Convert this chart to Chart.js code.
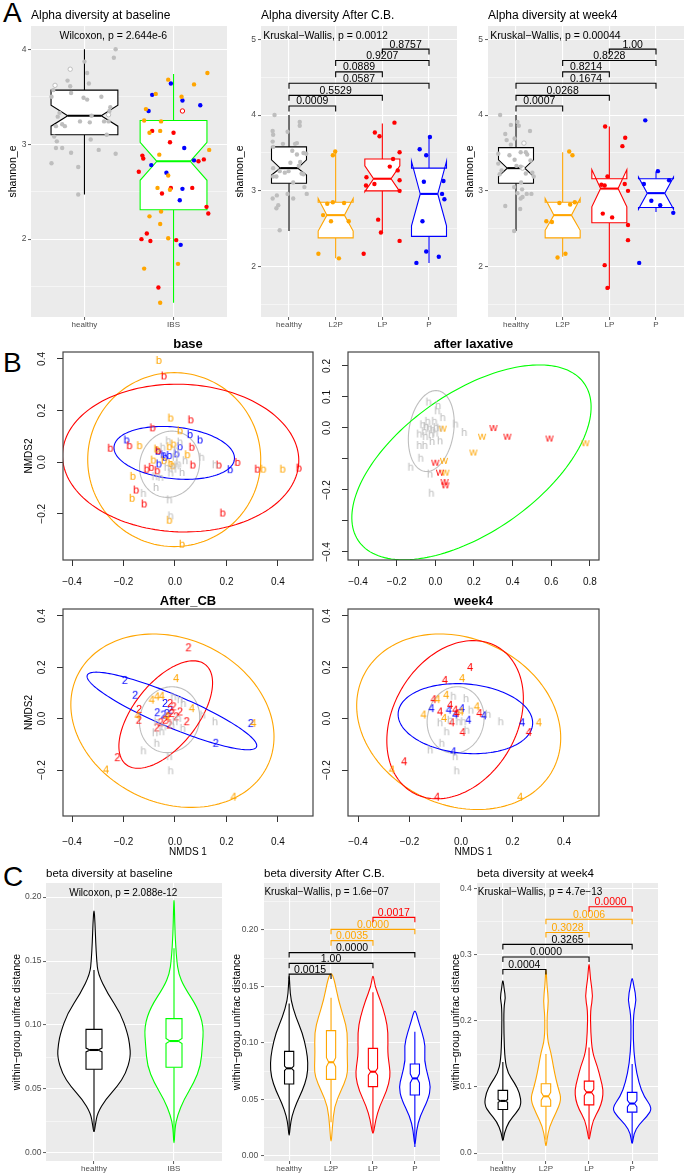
<!DOCTYPE html>
<html>
<head>
<meta charset="utf-8">
<script src="https://cdn.jsdelivr.net/npm/chart.js@4.4.0/dist/chart.umd.min.js"></script>
<style>
  body { margin: 0; background: #fff; width: 685px; height: 1174px; position: relative; overflow: hidden; font-family: "Liberation Sans", Arial, sans-serif; }
  canvas { position: absolute; }
  .lab { position: absolute; left: 3px; font-size: 28px; line-height: 28px; color: #000; }
</style>
</head>
<body>
<div class="lab" style="top:-1px">A</div>
<div class="lab" style="top:349px">B</div>
<div class="lab" style="top:863px">C</div>
<script>
// ---------- data ----------
// panel A : alpha diversity (shannon_e)
// box stats: [whiskerLow, q1, notchLow, median, notchHigh, q3, whiskerHigh]
const a1Groups = ['healthy', 'IBS'];
const a1Ticks = [2, 3, 4];
const a1Box = [[2.47, 3.10, 3.19, 3.30, 3.41, 3.57, 4.00], [1.33, 2.31, 2.62, 2.82, 3.02, 3.25, 3.74]];
// points: [jitter, value]
const a1Healthy = [[0.35,4.00],[0.33,3.91],[0.0,3.87],[0.03,3.75],[-0.19,3.67],[-0.16,3.61],[0.05,3.64],[-0.35,3.57],[-0.15,3.54],[-0.37,3.50],[-0.01,3.49],[0.03,3.47],[0.19,3.50],[0.29,3.39],[0.28,3.35],[-0.28,3.33],[-0.30,3.29],[0.08,3.30],[-0.05,3.24],[-0.32,3.19],[-0.22,3.19],[-0.25,3.21],[0.22,3.24],[0.27,3.24],[0.06,3.23],[0.25,3.10],[-0.34,3.08],[0.07,3.05],[-0.31,3.03],[-0.32,2.96],[-0.25,2.96],[0.16,2.94],[-0.15,2.91],[0.35,2.90],[-0.37,2.80],[-0.07,2.76],[-0.07,2.47]];
const a1HealthyOpen = [[-0.16,3.79],[-0.33,3.62],[0.27,3.31]];
const a1Orange = [[0.38,3.75],[-0.06,3.68],[0.23,3.63],[-0.2,3.53],[0.09,3.50],[-0.31,3.37],[-0.33,3.25],[-0.14,3.24],[-0.27,3.12],[-0.15,3.14],[0.40,2.94],[-0.16,2.89],[-0.06,2.67],[-0.18,2.54],[-0.04,2.52],[-0.14,2.29],[-0.27,2.24],[-0.15,2.16],[-0.06,2.01],[-0.33,1.69],[0.05,1.74],[-0.15,1.33]];
const a1Red = [[-0.24,3.14],[0.0,3.12],[-0.04,3.02],[-0.35,2.88],[-0.34,2.85],[0.28,2.82],[0.34,2.84],[-0.39,2.71],[-0.03,2.54],[0.21,2.54],[-0.13,2.48],[0.37,2.34],[0.39,2.27],[-0.30,2.06],[-0.36,2.00],[-0.26,1.98],[0.03,1.99],[-0.17,1.49]];
const a1Blue = [[-0.03,3.64],[-0.24,3.52],[0.10,3.46],[0.30,3.41],[-0.28,3.35],[0.12,2.96],[-0.25,2.78],[0.23,2.83],[-0.08,2.70],[0.10,2.53],[0.07,2.41],[0.08,1.94]];
const a1RedOpen = [[0.10,3.35]];

const a2Groups = ['healthy', 'L2P', 'LP', 'P'];
const a2Ticks = [2, 3, 4, 5];
const a2Box = [[2.47,3.10,3.21,3.30,3.41,3.58,4.00],[2.11,2.38,2.47,2.68,2.90,2.85,3.53],[2.46,3.00,2.99,3.16,3.33,3.42,3.89],[2.05,2.40,2.54,2.96,3.39,3.30,3.71]];
const a2Healthy = [[-0.31,4.00],[0.23,3.91],[0.23,3.86],[-0.35,3.79],[-0.34,3.74],[-0.03,3.78],[-0.35,3.65],[-0.34,3.58],[-0.13,3.62],[0.13,3.62],[0.17,3.63],[0.07,3.53],[0.17,3.48],[0.31,3.50],[0.37,3.49],[0.03,3.37],[0.24,3.38],[0.21,3.33],[-0.34,3.30],[-0.20,3.26],[-0.09,3.24],[-0.01,3.26],[-0.27,3.19],[0.27,3.23],[0.31,3.22],[0.09,3.11],[-0.34,3.19],[0.33,3.05],[-0.26,2.94],[-0.03,2.96],[0.38,2.96],[-0.35,2.90],[0.09,2.90],[-0.23,2.81],[-0.27,2.77],[-0.20,2.48]];
const a2L2P = [[-0.01,3.52],[-0.06,3.47],[-0.18,2.83],[-0.06,2.85],[0.18,2.84],[-0.27,2.68],[-0.10,2.60],[0.28,2.60],[-0.37,2.17],[0.07,2.11]];
const a2LP = [[0.26,3.90],[-0.16,3.77],[-0.06,3.72],[0.23,3.42],[0.37,3.51],[0.16,3.32],[0.33,3.27],[-0.34,3.18],[-0.35,3.07],[-0.17,3.09],[0.37,3.14],[0.37,3.00],[-0.09,2.62],[-0.03,2.45],[0.37,2.34],[-0.40,2.17]];
const a2P = [[0.02,3.71],[-0.20,3.55],[-0.06,3.47],[-0.11,3.12],[0.31,3.13],[0.28,2.96],[0.33,2.89],[-0.14,2.60],[-0.06,2.20],[-0.27,2.05],[0.21,2.13]];
const a2Pairs = [[1,2],[1,3],[1,4],[2,3],[2,4],[3,4]];
const a2PVals = ['0.0009', '0.5529', '0.0587', '0.0889', '0.9207', '0.8757'];
const a2BracketY = [4.12, 4.26, 4.42, 4.57, 4.72, 4.87];

const a3Box = [[2.47,3.10,3.19,3.30,3.41,3.57,4.00],[2.13,2.38,2.48,2.68,2.90,2.85,3.51],[1.71,2.58,2.79,3.03,3.28,3.16,3.85],[2.72,2.78,2.76,2.97,3.18,3.16,3.25]];
const a3Healthy = [[-0.34,4.00],[-0.11,3.87],[0.06,3.86],[0.03,3.91],[-0.23,3.75],[0.30,3.79],[-0.03,3.69],[-0.20,3.67],[-0.11,3.61],[-0.38,3.49],[-0.14,3.47],[0.10,3.51],[0.21,3.51],[0.24,3.48],[-0.03,3.41],[0.31,3.40],[0.01,3.33],[0.10,3.32],[-0.38,3.36],[-0.31,3.27],[-0.35,3.22],[0.35,3.24],[0.38,3.19],[0.21,3.23],[0.11,3.11],[-0.04,3.05],[0.13,3.02],[0.03,2.97],[0.23,2.96],[0.33,2.96],[0.10,2.90],[0.14,2.92],[-0.23,2.80],[0.09,2.76],[-0.04,2.47]];
const a3HealthyOpen = [[0.17,3.63],[0.14,3.30]];
const a3L2P = [[0.14,3.52],[0.21,3.47],[-0.07,2.84],[0.16,2.82],[0.26,2.85],[-0.35,2.60],[-0.23,2.59],[-0.11,2.12],[0.06,2.17]];
const a3LP = [[-0.09,3.85],[0.34,3.70],[0.28,3.59],[-0.04,3.19],[-0.17,3.08],[-0.10,3.07],[0.33,3.09],[0.40,3.00],[-0.14,2.70],[0.06,2.65],[0.40,2.55],[0.40,2.35],[-0.10,2.02],[-0.04,1.72]];
const a3P = [[-0.23,3.93],[0.04,3.26],[-0.26,3.09],[0.28,3.14],[-0.10,2.87],[0.09,2.81],[0.37,2.71],[-0.36,2.05]];
const a3PVals = ['0.0007', '0.0268', '0.1674', '0.8214', '0.8228', '1.00'];

// panel B : NMDS ordination, [NMDS1, NMDS2]
// ellipses: [centerX, centerY, semiA, semiB, angleDeg]
const nmdsTicks = [-0.4, -0.2, 0, 0.2, 0.4];
const nmdsTickLabels = ['\u22120.4', '\u22120.2', '0.0', '0.2', '0.4'];
const nmdsYTicks = [-0.2, 0, 0.2, 0.4];
const nmdsYTickLabels = ['\u22120.2', '0.0', '0.2', '0.4'];
const laxXTicks = [-0.4, -0.2, 0, 0.2, 0.4, 0.6, 0.8];
const laxXTickLabels = ['\u22120.4', '\u22120.2', '0.0', '0.2', '0.4', '0.6', '0.8'];
const laxYTicks = [-0.4, -0.3, -0.2, -0.1, 0, 0.1, 0.2];
const laxYTickLabels = ['\u22120.4', '', '\u22120.2', '', '0.0', '0.1', '0.2'];

const baseH = [[-0.026,0.085],[0.019,0.080],[-0.048,0.060],[0.004,0.049],[0.103,0.021],[0.155,-0.008],[0.039,0.008],[0.006,-0.012],[-0.017,-0.040],[0.027,-0.038],[-0.079,-0.054],[-0.056,-0.057],[-0.074,-0.096],[-0.123,-0.119],[-0.022,-0.144],[-0.017,-0.206],[-0.032,-0.018],[-0.006,-0.025],[0.013,-0.005],[0.0,0.021]];
const baseOrange = [[-0.063,0.396],[-0.017,0.173],[0.019,0.124],[-0.138,0.066],[-0.006,0.072],[-0.022,0.062],[0.048,0.031],[-0.071,0.053],[-0.084,0.010],[-0.043,0.008],[-0.017,-0.003],[-0.009,-0.012],[0.343,-0.025],[0.418,-0.025],[-0.164,-0.053],[-0.167,-0.138],[-0.022,-0.223],[0.027,-0.316]];
const baseRed = [[-0.043,0.336],[0.061,0.166],[-0.087,0.135],[-0.177,0.066],[-0.251,0.056],[0.065,0.060],[0.069,-0.009],[-0.110,-0.025],[-0.092,-0.018],[-0.069,-0.031],[0.170,-0.009],[0.243,0.001],[0.320,-0.025],[0.481,-0.021],[-0.151,-0.106],[-0.120,-0.160],[0.185,-0.195],[-0.065,0.047]];
const baseBlue = [[-0.188,0.088],[0.058,0.109],[0.097,0.088],[0.019,0.062],[-0.066,0.044],[-0.045,0.031],[-0.022,0.028],[0.006,0.034],[-0.063,-0.005],[0.214,-0.027],[-0.039,0.021]];
const baseEllipses = [[-0.021,-0.008,0.13,0.115,70], [-0.003,0.010,0.336,0.337,0], [0.022,0.016,0.459,0.286,-2], [-0.003,0.036,0.235,0.100,-6]];

const laxH = [[-0.035,0.085],[0.014,0.074],[0.010,0.057],[0.038,0.035],[-0.066,0.012],[-0.048,0.006],[-0.031,0.001],[-0.014,-0.004],[0.003,0.003],[-0.083,-0.018],[-0.052,-0.026],[-0.022,-0.020],[0.0,-0.015],[0.021,0.001],[0.104,0.014],[0.149,-0.013],[-0.083,-0.055],[-0.055,-0.055],[-0.017,-0.042],[0.024,-0.040],[-0.076,-0.096],[-0.128,-0.125],[-0.028,-0.147],[-0.021,-0.209],[-0.057,-0.010],[-0.040,0.023],[-0.005,0.023]];
const laxRed = [[0.301,0.003],[0.373,-0.025],[0.591,-0.031],[0.0,-0.109],[0.024,-0.141],[0.048,-0.171],[0.052,-0.182]];
const laxOrange = [[0.038,0.001],[0.242,-0.025],[0.197,-0.076],[0.777,-0.046],[0.045,-0.103],[0.052,-0.141]];
const laxEllipses = [[-0.021,-0.010,0.138,0.110,57.5], [0.187,-0.111,0.649,0.247,18.9]];

const cbH = [[0.019,0.076],[0.032,0.061],[-0.006,0.087],[0.107,0.016],[0.155,-0.010],[-0.071,-0.010],[-0.045,-0.030],[0.030,-0.036],[-0.078,-0.053],[-0.052,-0.049],[-0.071,-0.094],[-0.123,-0.123],[-0.022,-0.146],[-0.017,-0.201],[0.0,-0.010],[0.013,0.003],[-0.013,-0.023]];
const cbRed = [[0.052,0.278],[-0.140,0.038],[-0.141,-0.004],[-0.224,-0.150],[-0.019,0.061],[-0.006,0.048],[0.019,0.028],[-0.013,0.022],[-0.039,-0.004],[-0.056,-0.014],[-0.022,-0.023],[0.045,-0.010],[-0.071,-0.034],[-0.026,0.009],[0.004,0.009]];
const cbBlue = [[-0.195,0.151],[-0.155,0.093],[-0.069,0.025],[-0.045,0.016],[-0.032,0.022],[-0.019,0.035],[0.294,-0.017],[0.158,-0.094],[-0.039,0.061]];
const cbOrange = [[0.004,0.158],[-0.091,0.074],[-0.071,0.087],[-0.052,0.089],[0.065,0.041],[0.304,-0.017],[-0.268,-0.198],[-0.146,0.012],[0.227,-0.304],[-0.032,0.009]];
const cbEllipses = [[-0.021,-0.004,0.13,0.115,70], [-0.010,-0.008,0.409,0.320,-25], [-0.036,0.016,0.248,0.124,51.7], [-0.012,0.030,0.357,0.063,-23]];

const w4H = [[-0.030,0.089],[0.019,0.080],[0.038,0.035],[0.105,0.019],[0.154,-0.010],[-0.082,-0.014],[-0.056,-0.049],[-0.075,-0.094],[-0.120,-0.120],[-0.023,-0.146],[-0.017,-0.201],[0.022,-0.043],[-0.010,-0.010],[0.009,-0.010],[-0.043,-0.004]];
const w4Red = [[0.035,0.201],[-0.063,0.151],[-0.107,0.076],[-0.082,0.028],[-0.043,0.054],[-0.023,0.035],[-0.036,-0.014],[0.006,-0.052],[0.071,0.022],[0.263,-0.052],[-0.221,-0.166],[-0.094,-0.304],[-0.017,0.022]];
const w4Orange = [[0.004,0.158],[-0.092,0.076],[-0.058,0.093],[-0.146,0.016],[-0.066,0.003],[0.061,0.048],[-0.001,0.028],[0.302,-0.014],[-0.269,-0.198],[0.229,-0.304]];
const w4Blue = [[-0.115,0.041],[-0.048,0.035],[0.003,0.041],[-0.023,0.016],[0.028,-0.004],[0.089,0.013],[0.237,-0.014],[-0.030,-0.127]];
const w4Ellipses = [[-0.021,-0.005,0.13,0.11,80], [-0.009,-0.012,0.411,0.324,-25.5], [-0.023,-0.004,0.328,0.240,59.7], [0.017,0.0,0.262,0.135,-5]];

// panel C : beta diversity, violin profiles (value, half width) + box stats
const c1Groups = ['healthy', 'IBS'];
const c1Ticks = [0, 0.05, 0.1, 0.15, 0.2];
const c1TickLabels = ['0.00', '0.05', '0.10', '0.15', '0.20'];
const c1ViolinY = [[0.015,0.022,0.031,0.042,0.052,0.062,0.075,0.085,0.094,0.109,0.125,0.14,0.151,0.165,0.18,0.192],
                   [0.004,0.02,0.029,0.042,0.055,0.068,0.083,0.099,0.114,0.13,0.14,0.151,0.171,0.19,0.2]];
const c1ViolinW = [[0,0.017,0.042,0.146,0.292,0.396,0.458,0.446,0.417,0.333,0.167,0.05,0.033,0.021,0.0125,0],
                   [0,0.0125,0.042,0.125,0.25,0.333,0.354,0.371,0.292,0.125,0.058,0.033,0.0125,0.006,0]];
const c1Box = [[0.019,0.0655,0.079,0.0805,0.082,0.0966,0.143], [0.01,0.067,0.0855,0.0875,0.0895,0.105,0.16]];

const c2Ticks = [0, 0.05, 0.1, 0.15, 0.2];
const c2ViolinY = [[0.016,0.026,0.035,0.047,0.058,0.070,0.082,0.094,0.109,0.123,0.138,0.150,0.162],
                   [0.009,0.026,0.044,0.058,0.070,0.079,0.091,0.109,0.123,0.138,0.156,0.163],
                   [0.017,0.032,0.044,0.058,0.070,0.079,0.091,0.109,0.123,0.138,0.150,0.162],
                   [0.007,0.023,0.035,0.050,0.061,0.070,0.085,0.097,0.109,0.120,0.131]];
const c2ViolinW = [[0,0.024,0.063,0.175,0.317,0.429,0.452,0.413,0.317,0.159,0.04,0.016,0],
                   [0,0.032,0.079,0.238,0.381,0.397,0.381,0.397,0.302,0.175,0.079,0],
                   [0,0.063,0.159,0.333,0.413,0.397,0.349,0.365,0.302,0.175,0.048,0],
                   [0,0.04,0.119,0.317,0.381,0.317,0.222,0.254,0.175,0.079,0]];
const c2Box = [[0.02,0.0637,0.0756,0.0776,0.0796,0.0926,0.135],[0.03,0.0678,0.079,0.083,0.087,0.111,0.14],[0.02,0.0614,0.0716,0.0746,0.0776,0.0953,0.145],[0.008,0.054,0.0647,0.0687,0.0727,0.0814,0.11]];
const c2PVals = ['0.0015', '1.00', '0.0000', '0.0035', '0.0000', '0.0017'];
const c2BracketY = [0.161, 0.1705, 0.180, 0.1906, 0.2006, 0.2112];

const c3Ticks = [0, 0.1, 0.2, 0.3, 0.4];
const c3TickLabels = ['0.0', '0.1', '0.2', '0.3', '0.4'];
const c3ViolinY = [[0.015,0.030,0.048,0.061,0.073,0.091,0.106,0.121,0.141,0.182,0.222,0.235,0.248,0.265],
                   [0.008,0.020,0.040,0.061,0.081,0.096,0.111,0.131,0.152,0.172,0.207,0.230,0.253,0.285],
                   [0.018,0.030,0.050,0.066,0.081,0.096,0.111,0.131,0.152,0.182,0.217,0.237,0.263,0.293],
                   [0.010,0.030,0.043,0.056,0.068,0.086,0.106,0.136,0.172,0.212,0.232,0.253,0.268]];
const c3ViolinW = [[0,0.031,0.141,0.313,0.43,0.391,0.273,0.117,0.047,0.023,0.023,0.0625,0.031,0],
                   [0,0.023,0.078,0.234,0.359,0.297,0.234,0.172,0.117,0.031,0.023,0.0625,0.023,0],
                   [0,0.031,0.094,0.234,0.313,0.328,0.273,0.195,0.078,0.039,0.031,0.094,0.031,0],
                   [0,0.039,0.156,0.352,0.469,0.273,0.156,0.0625,0.023,0.031,0.102,0.039,0]];
const c3Box = [[0.02,0.066,0.077,0.079,0.081,0.095,0.138],[0.02,0.071,0.080,0.086,0.092,0.105,0.15],[0.025,0.073,0.087,0.092,0.097,0.109,0.16],[0.015,0.062,0.070,0.075,0.080,0.092,0.135]];
const c3PVals = ['0.0004', '0.0000', '0.3265', '0.3028', '0.0006', '0.0000'];
const c3BracketY = [0.278, 0.297, 0.316, 0.334, 0.354, 0.373];

const groupColors = ['#000000', '#FFA500', '#FF0000', '#0000FF'];
const bracketColors = ['#000000', '#000000', '#000000', '#FFA500', '#FFA500', '#FF0000'];

// ---------- helpers ----------
const FONT = '"Liberation Sans", Arial, sans-serif';
const GREY = '#BEBEBE';

function place(x, y, w, h) {
  let c = document.createElement('canvas');
  c.width = w; c.height = h;
  c.style.left = x + 'px'; c.style.top = y + 'px';
  c.style.width = w + 'px'; c.style.height = h + 'px';
  document.body.appendChild(c);
  return c;
}

function txt(ctx, s, x, y, size, o) {
  o = o || {};
  ctx.save();
  ctx.font = (o.bold ? 'bold ' : '') + size + 'px ' + FONT;
  ctx.fillStyle = o.color || '#000';
  ctx.textAlign = o.align || 'left';
  ctx.textBaseline = o.base || 'alphabetic';
  ctx.fillText(s, x, y);
  ctx.restore();
}

function build(rect, area, cfg) {
  let cv = place(rect[0], rect[1], rect[2], rect[3]);
  let yW = area[0] - rect[0];
  let xH = rect[1] + rect[3] - area[3];
  cfg.x.afterFit = s => { s.height = xH; };
  cfg.y.afterFit = s => { s.width = yW; };
  return new Chart(cv, {
    type: 'scatter',
    data: { datasets: cfg.datasets },
    options: {
      responsive: false, animation: false, devicePixelRatio: 1, events: [],
      layout: { autoPadding: false, padding: { top: area[1] - rect[1], right: rect[0] + rect[2] - area[2], left: 0, bottom: 0 } },
      plugins: { legend: { display: false }, tooltip: { enabled: false } },
      scales: { x: cfg.x, y: cfg.y }
    },
    plugins: [{ id: 'marks', beforeDraw: cfg.bg, beforeDatasetsDraw: cfg.under, afterDatasetsDraw: cfg.over }]
  });
}

// ggplot style axes
function ggX(groups) {
  return {
    type: 'linear', min: 0.4, max: groups.length + 0.6, bounds: 'data',
    afterBuildTicks: s => { s.ticks = groups.map((g, i) => ({ value: i + 1 })); },
    ticks: { autoSkip: false, maxRotation: 0, padding: 0, color: '#4D4D4D', font: { size: 8, family: FONT },
             callback: v => groups[Math.round(v) - 1] },
    grid: { color: '#FFFFFF', lineWidth: 1.1, tickLength: 3, tickColor: '#333333', tickWidth: 0.8 },
    border: { display: false }
  };
}
function ggY(min, max, majors, labels, minors, title, titlePad, tickPad) {
  let all = majors.concat(minors).filter(v => v >= min && v <= max).sort((a, b) => a - b);
  let isMajor = c => c.tick && majors.includes(c.tick.value);
  return {
    type: 'linear', min: min, max: max, bounds: 'data',
    afterBuildTicks: s => { s.ticks = all.map(v => ({ value: v })); },
    ticks: { autoSkip: false, padding: tickPad, color: '#4D4D4D', font: { size: 8.5, family: FONT },
             callback: v => { let i = majors.indexOf(v); return i >= 0 ? labels[i] : ''; } },
    grid: { color: '#FFFFFF', lineWidth: c => isMajor(c) ? 1.1 : 0.5, tickLength: 3,
            tickColor: c => isMajor(c) ? '#333333' : 'rgba(0,0,0,0)', tickWidth: 0.8 },
    border: { display: false },
    title: { display: true, text: title, color: '#000', font: { size: 10.5, family: FONT }, padding: { top: titlePad, bottom: 0 } }
  };
}
const ggBg = chart => {
  let { ctx, chartArea: a } = chart;
  ctx.save(); ctx.fillStyle = '#EBEBEB';
  ctx.fillRect(a.left, a.top, a.right - a.left, a.bottom - a.top);
  ctx.restore();
};

// base R style axes
function rX(min, max, ticks, labels, title, pad) {
  let s = {
    type: 'linear', min: min, max: max, bounds: 'data',
    afterBuildTicks: sc => { sc.ticks = ticks.map(v => ({ value: v })); },
    ticks: { autoSkip: false, maxRotation: 0, padding: pad, color: '#111', font: { size: 10, family: FONT },
             callback: (v, i) => labels[i] },
    grid: { drawOnChartArea: false, drawTicks: true, tickLength: 6, tickColor: '#333', tickWidth: 1 },
    border: { display: false }
  };
  if (title) s.title = { display: true, text: title, color: '#000', font: { size: 10, family: FONT }, padding: { top: 0, bottom: 12 } };
  return s;
}
function rY(min, max, ticks, labels, title) {
  let s = {
    type: 'linear', min: min, max: max, bounds: 'data',
    afterBuildTicks: sc => { sc.ticks = ticks.map(v => ({ value: v })); },
    ticks: { autoSkip: false, minRotation: 90, maxRotation: 90, crossAlign: 'center', padding: 5, color: '#111',
             font: { size: 10, family: FONT }, callback: (v, i) => labels[i] },
    grid: { drawOnChartArea: false, drawTicks: true, tickLength: 6, tickColor: '#333', tickWidth: 1 },
    border: { display: false }
  };
  if (title) s.title = { display: true, text: title, color: '#000', font: { size: 10, family: FONT }, padding: { top: 23, bottom: 0 } };
  return s;
}

function px(chart) {
  return [v => chart.scales.x.getPixelForValue(v), v => chart.scales.y.getPixelForValue(v)];
}

function notchBox(chart, cx, st, half, color, lw) {
  let [X, Y] = px(chart), ctx = chart.ctx;
  let [lo, q1, nl, md, nu, q3, hi] = st;
  let x0 = cx - half, x1 = cx + half, ind = half / 2;
  ctx.save();
  ctx.strokeStyle = color; ctx.lineWidth = lw;
  ctx.beginPath();
  ctx.moveTo(X(cx), Y(q3)); ctx.lineTo(X(cx), Y(hi));
  ctx.moveTo(X(cx), Y(q1)); ctx.lineTo(X(cx), Y(lo));
  ctx.stroke();
  let pts = [[x0, q3], [x0, nu], [x0 + ind, md], [x0, nl], [x0, q1], [x1, q1], [x1, nl], [x1 - ind, md], [x1, nu], [x1, q3]];
  ctx.beginPath();
  pts.forEach((p, i) => i ? ctx.lineTo(X(p[0]), Y(p[1])) : ctx.moveTo(X(p[0]), Y(p[1])));
  ctx.closePath();
  ctx.fillStyle = '#FFFFFF'; ctx.fill(); ctx.stroke();
  ctx.lineWidth = lw * 1.9;
  ctx.beginPath(); ctx.moveTo(X(x0 + ind), Y(md)); ctx.lineTo(X(x1 - ind), Y(md)); ctx.stroke();
  ctx.restore();
}

function violin(chart, cx, ys, ws, color) {
  let [X, Y] = px(chart), ctx = chart.ctx;
  let pts = [];
  for (let i = 0; i < ys.length; i++) pts.push([X(cx + ws[i]), Y(ys[i])]);
  for (let i = ys.length - 2; i > 0; i--) pts.push([X(cx - ws[i]), Y(ys[i])]);
  let n = pts.length, mid = (a, b) => [(a[0] + b[0]) / 2, (a[1] + b[1]) / 2];
  ctx.save();
  ctx.beginPath();
  let m = mid(pts[n - 1], pts[0]);
  ctx.moveTo(m[0], m[1]);
  for (let i = 0; i < n; i++) {
    let p = pts[i], q = pts[(i + 1) % n], mm = mid(p, q);
    ctx.quadraticCurveTo(p[0], p[1], mm[0], mm[1]);
  }
  ctx.closePath();
  ctx.fillStyle = '#FFFFFF'; ctx.fill();
  ctx.strokeStyle = color; ctx.lineWidth = 1.1; ctx.stroke();
  ctx.restore();
}

function brackets(chart, pairs, ys, labels, colors, tick, size) {
  let [X, Y] = px(chart), ctx = chart.ctx;
  pairs.forEach((p, i) => {
    let x1 = X(p[0]), x2 = X(p[1]), y = Y(ys[i]);
    ctx.save();
    ctx.strokeStyle = colors[i]; ctx.lineWidth = 1.1;
    ctx.beginPath();
    ctx.moveTo(x1, y + tick); ctx.lineTo(x1, y); ctx.lineTo(x2, y); ctx.lineTo(x2, y + tick);
    ctx.stroke();
    ctx.restore();
    txt(ctx, labels[i], (x1 + x2) / 2, y - 1.5, size, { align: 'center', color: colors[i] });
  });
}

function ellipse(chart, e, color) {
  let [X, Y] = px(chart), ctx = chart.ctx, a = chart.chartArea;
  let [cx, cy, sa, sb, deg] = e, t = deg * Math.PI / 180;
  ctx.save();
  ctx.beginPath(); ctx.rect(a.left, a.top, a.right - a.left, a.bottom - a.top); ctx.clip();
  ctx.strokeStyle = color; ctx.lineWidth = 1.1;
  ctx.beginPath();
  for (let k = 0; k <= 160; k++) {
    let u = k / 160 * 2 * Math.PI;
    let x = cx + sa * Math.cos(u) * Math.cos(t) - sb * Math.sin(u) * Math.sin(t);
    let y = cy + sa * Math.cos(u) * Math.sin(t) + sb * Math.sin(u) * Math.cos(t);
    k ? ctx.lineTo(X(x), Y(y)) : ctx.moveTo(X(x), Y(y));
  }
  ctx.stroke();
  ctx.restore();
}

function frame(chart) {
  let { ctx, chartArea: a } = chart;
  ctx.save(); ctx.strokeStyle = '#444'; ctx.lineWidth = 1.2;
  ctx.strokeRect(a.left, a.top, a.right - a.left, a.bottom - a.top);
  ctx.restore();
}

function jitter(pts, idx, color, open) {
  return {
    data: pts.map(p => ({ x: idx + p[0], y: p[1] })),
    pointRadius: 2.2, pointBackgroundColor: open ? '#FFFFFF' : color,
    pointBorderColor: color, pointBorderWidth: open ? 1 : 0
  };
}

const letterCache = {};
function letter(ch, color) {
  let key = ch + color;
  if (letterCache[key]) return letterCache[key];
  let c = document.createElement('canvas');
  c.width = 14; c.height = 14;
  let g = c.getContext('2d');
  g.font = '11px ' + FONT; g.fillStyle = color;
  g.textAlign = 'center'; g.textBaseline = 'middle';
  g.fillText(ch, 7, 7.5);
  letterCache[key] = c;
  return c;
}
function letters(pts, ch, color) {
  return { data: pts.map(p => ({ x: p[0], y: p[1] })), pointStyle: letter(ch, color), pointRadius: 4 };
}

// ---------- panel A ----------
build([0, 0, 230, 335], [31, 26, 227, 317], {
  x: ggX(a1Groups),
  y: ggY(1.18, 4.245, a1Ticks, a1Ticks.map(String), [1.5, 2.5, 3.5], 'shannon_e', 7, 1.5),
  datasets: [jitter(a1Healthy, 1, GREY), jitter(a1HealthyOpen, 1, GREY, true),
             jitter(a1Orange, 2, '#FFA500'), jitter(a1Red, 2, '#FF0000'), jitter(a1Blue, 2, '#0000FF'),
             jitter(a1RedOpen, 2, '#FF0000', true)],
  bg: ggBg,
  under: c => { notchBox(c, 1, a1Box[0], 0.375, '#000000', 1.1); notchBox(c, 2, a1Box[1], 0.375, '#00FF00', 1.1); },
  over: c => {
    let [X, Y] = px(c);
    txt(c.ctx, 'Alpha diversity at baseline', c.chartArea.left, c.chartArea.top - 7, 12);
    txt(c.ctx, 'Wilcoxon, p = 2.644e-6', X(0.72), Y(4.14), 10.5, { base: 'middle' });
  }
});

function alphaCfg(box, sets, pvals, title, stat) {
  return {
    x: ggX(a2Groups),
    y: ggY(1.336, 5.175, a2Ticks, a2Ticks.map(String), [1.5, 2.5, 3.5, 4.5], 'shannon_e', 3.7, 2),
    datasets: sets,
    bg: ggBg,
    under: c => box.forEach((b, i) => notchBox(c, i + 1, b, 0.375, groupColors[i], 1.1)),
    over: c => {
      let [X, Y] = px(c);
      brackets(c, a2Pairs, a2BracketY, pvals, a2Pairs.map(() => '#000'), 5.5, 10.5);
      txt(c.ctx, title, c.chartArea.left, c.chartArea.top - 7, 12);
      txt(c.ctx, stat, X(0.45), Y(5.04), 10.5, { base: 'middle' });
    }
  };
}
build([230, 0, 230, 335], [261, 26, 457, 317], alphaCfg(a2Box,
  [jitter(a2Healthy, 1, GREY), jitter(a2L2P, 2, '#FFA500'), jitter(a2LP, 3, '#FF0000'), jitter(a2P, 4, '#0000FF')],
  a2PVals, 'Alpha diversity After C.B.', 'Kruskal\u2212Wallis, p = 0.0012'));
build([460, 0, 225, 335], [488, 26, 684, 317], alphaCfg(a3Box,
  [jitter(a3Healthy, 1, GREY), jitter(a3HealthyOpen, 1, GREY, true), jitter(a3L2P, 2, '#FFA500'), jitter(a3LP, 3, '#FF0000'), jitter(a3P, 4, '#0000FF')],
  a3PVals, 'Alpha diversity at week4', 'Kruskal\u2212Wallis, p = 0.00044'));

// ---------- panel B ----------
function nmdsCfg(x, y, sets, ells, ellColors, title) {
  return {
    x: x, y: y, datasets: sets,
    under: c => ells.forEach((e, i) => ellipse(c, e, ellColors[i])),
    over: c => {
      frame(c);
      let a = c.chartArea;
      txt(c.ctx, title, (a.left + a.right) / 2, a.top - 4.5, 13, { bold: true, align: 'center' });
    }
  };
}
const ellCols4 = [GREY, '#FFA500', '#FF0000', '#0000FF'];
build([0, 330, 340, 260], [63, 352, 313, 560], nmdsCfg(
  rX(-0.435, 0.536, nmdsTicks, nmdsTickLabels, null, 10), rY(-0.379, 0.427, nmdsYTicks, nmdsYTickLabels, 'NMDS2'),
  [letters(baseH, 'h', GREY), letters(baseOrange, 'b', '#FFA500'), letters(baseRed, 'b', '#FF0000'), letters(baseBlue, 'b', '#0000FF')],
  baseEllipses, ellCols4, 'base'));
build([313, 330, 372, 260], [348, 352, 599, 560], nmdsCfg(
  rX(-0.452, 0.847, laxXTicks, laxXTickLabels, null, 10), rY(-0.426, 0.245, laxYTicks, laxYTickLabels, null),
  [letters(laxH, 'h', GREY), letters(laxOrange, 'w', '#FFA500'), letters(laxRed, 'w', '#FF0000')],
  laxEllipses, [GREY, '#00FF00'], 'after laxative'));
build([0, 590, 340, 280], [63, 609, 313, 816], nmdsCfg(
  rX(-0.435, 0.536, nmdsTicks, nmdsTickLabels, 'NMDS 1', 14), rY(-0.379, 0.427, nmdsYTicks, nmdsYTickLabels, 'NMDS2'),
  [letters(cbH, 'h', GREY), letters(cbOrange, '4', '#FFA500'), letters(cbRed, '2', '#FF0000'), letters(cbBlue, '2', '#0000FF')],
  cbEllipses, ellCols4, 'After_CB'));
build([313, 590, 372, 280], [348, 609, 599, 816], nmdsCfg(
  rX(-0.439, 0.536, nmdsTicks, nmdsTickLabels, 'NMDS 1', 14), rY(-0.379, 0.427, nmdsYTicks, nmdsYTickLabels, null),
  [letters(w4H, 'h', GREY), letters(w4Orange, '4', '#FFA500'), letters(w4Red, '4', '#FF0000'), letters(w4Blue, '4', '#0000FF')],
  w4Ellipses, ellCols4, 'week4'));

// ---------- panel C ----------
const ytitle = 'within\u2212group unifrac distance';
build([0, 860, 228, 314], [46, 883, 222, 1161], {
  x: ggX(c1Groups),
  y: ggY(-0.00625, 0.211, c1Ticks, c1TickLabels, [0.025, 0.075, 0.125, 0.175], ytitle, 10.5, 1.5),
  datasets: [],
  bg: ggBg,
  under: c => {
    c1Box.forEach((b, i) => {
      let col = i ? '#00FF00' : '#000000';
      violin(c, i + 1, c1ViolinY[i], c1ViolinW[i], col);
      notchBox(c, i + 1, b, 0.1, col, 1.1);
    });
  },
  over: c => {
    let [X, Y] = px(c);
    txt(c.ctx, 'beta diversity at baseline', c.chartArea.left, c.chartArea.top - 6, 11.5);
    txt(c.ctx, 'Wilcoxon, p = 2.088e-12', X(0.69), Y(0.203), 10, { base: 'middle' });
  }
});
function betaCfg(ymin, ymax, ticks, labels, minors, vy, vw, box, pvals, by, title, stat, sx, sy, tpad, kpad) {
  return {
    x: ggX(a2Groups),
    y: ggY(ymin, ymax, ticks, labels, minors, ytitle, tpad, kpad),
    datasets: [],
    bg: ggBg,
    under: c => box.forEach((b, i) => { violin(c, i + 1, vy[i], vw[i], groupColors[i]); notchBox(c, i + 1, b, 0.11, groupColors[i], 1.1); }),
    over: c => {
      let [X, Y] = px(c);
      brackets(c, a2Pairs, by, pvals, bracketColors, 5, 10.5);
      txt(c.ctx, title, c.chartArea.left, c.chartArea.top - 6, 11.5);
      txt(c.ctx, stat, X(sx), Y(sy), 10, { base: 'middle' });
    }
  };
}
build([228, 860, 227, 314], [264, 883, 440, 1161], betaCfg(-0.0044, 0.2416, c2Ticks, c1TickLabels,
  [0.025, 0.075, 0.125, 0.175, 0.225], c2ViolinY, c2ViolinW, c2Box, c2PVals, c2BracketY,
  'beta diversity After C.B.', 'Kruskal\u2212Wallis, p = 1.6e\u221207', 0.41, 0.233, 3, 2.7));
build([450, 860, 235, 314], [477, 883, 658, 1161], betaCfg(-0.012, 0.409, c3Ticks, c3TickLabels,
  [0.05, 0.15, 0.25, 0.35], c3ViolinY, c3ViolinW, c3Box, c3PVals, c3BracketY,
  'beta diversity at week4', 'Kruskal\u2212Wallis, p = 4.7e\u221213', 0.42, 0.395, 0, 2.3));
</script>
</body>
</html>
